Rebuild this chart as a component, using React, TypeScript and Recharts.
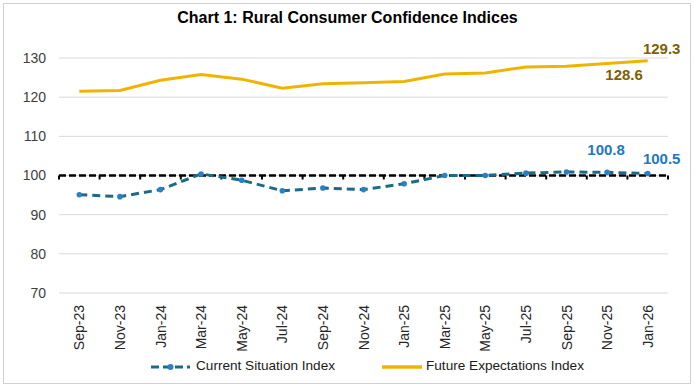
import React from "react";
import {
  LineChart,
  Line,
  XAxis,
  YAxis,
  CartesianGrid,
  ReferenceLine,
  LabelList,
  Legend,
} from "recharts";

const categories = [
  "Sep-23", "Nov-23", "Jan-24", "Mar-24", "May-24", "Jul-24", "Sep-24", "Nov-24",
  "Jan-25", "Mar-25", "May-25", "Jul-25", "Sep-25", "Nov-25", "Jan-26",
];
const currentSituation = [
  95.1, 94.6, 96.4, 100.4, 98.8, 96.1, 96.8, 96.4, 97.9, 100.0, 100.0, 100.6, 100.9, 100.8, 100.5,
];
const futureExpectations = [
  121.5, 121.7, 124.3, 125.8, 124.6, 122.3, 123.4, 123.7, 124.0, 125.9, 126.2, 127.7, 127.9, 128.6, 129.3,
];
const yTicks = [70, 80, 90, 100, 110, 120, 130];
const neutralLevel = 100;

const data = categories.map((c, i) => ({
  month: c,
  csi: currentSituation[i],
  fei: futureExpectations[i],
}));

const FONT = "'Liberation Sans', Arial, sans-serif";
const GOLD = "#F0B400";
const GOLD_LABEL = "#7F6000";
const TEAL = "#1B6A87";
const BLUE_MARK = "#2A80C4";
const BLUE_LABEL = "#2277C6";

const PLOT_W = 695 - 59 - 27;
const HALF_BAND = PLOT_W / categories.length / 2;

const XTick = (props: any) => {
  const { x, y, payload } = props;
  return (
    <text
      x={x}
      y={y}
      transform={`rotate(-90, ${x}, ${y})`}
      textAnchor="end"
      dy="0.36em"
      fontSize={14}
      fontFamily={FONT}
      fill="#262626"
    >
      {payload.value}
    </text>
  );
};

const NeutralLine = (props: any) => {
  const { x1, y1, x2 } = props;
  const n = categories.length;
  const step = (x2 - x1) / n;
  const ticks = [];
  for (let i = 0; i <= n; i++) {
    const tx = x1 + step * i;
    ticks.push(
      <line key={i} x1={tx} x2={tx} y1={y1} y2={y1 + 4} stroke="#000" strokeWidth={2} />
    );
  }
  return (
    <g>
      <line x1={x1} x2={x2} y1={y1} y2={y1} stroke="#000" strokeWidth={2.5} strokeDasharray="7 3" />
      {ticks}
    </g>
  );
};

const makeLabel = (
  offsets: Record<number, [number, number]>,
  color: string
) => (props: any) => {
  const { x, y, value, index } = props;
  const off = offsets[index];
  if (!off) return null;
  return (
    <text
      x={x + off[0]}
      y={y + off[1]}
      textAnchor="middle"
      dominantBaseline="central"
      fontSize={15}
      fontWeight="bold"
      fontFamily={FONT}
      fill={color}
    >
      {Number(value).toFixed(1)}
    </text>
  );
};

const futureLabel = makeLabel({ 13: [17, 11], 14: [14, -12] }, GOLD_LABEL);
const currentLabel = makeLabel({ 13: [-1, -23], 14: [14, -15] }, BLUE_LABEL);

const LegendContent = () => (
  <div style={{ position: "relative", width: 695, height: 30, fontFamily: FONT, fontSize: 13.6, color: "#1a1a1a" }}>
    <svg style={{ position: "absolute", left: 150, top: 9 }} width={42} height={10}>
      <line x1={1} x2={40} y1={5} y2={5} stroke={TEAL} strokeWidth={3} strokeDasharray="8 4" />
      <circle cx={20.5} cy={5} r={3} fill={BLUE_MARK} />
    </svg>
    <span style={{ position: "absolute", left: 196, top: 5, whiteSpace: "nowrap" }}>Current Situation Index</span>
    <svg style={{ position: "absolute", left: 381, top: 9 }} width={42} height={10}>
      <line x1={1} x2={41} y1={5} y2={5} stroke={GOLD} strokeWidth={3.5} />
    </svg>
    <span style={{ position: "absolute", left: 426, top: 5, whiteSpace: "nowrap" }}>Future Expectations Index</span>
  </div>
);

export default function App() {
  return (
    <div style={{ position: "relative", width: 695, height: 388, background: "#fff", overflow: "hidden" }}>
      <style>{`body{margin:0;}`}</style>
      <div
        style={{
          position: "absolute",
          left: 3,
          top: 3,
          width: 688,
          height: 381,
          border: "1px solid #D0D0D0",
          boxSizing: "border-box",
        }}
      />
      <div
        style={{
          position: "absolute",
          left: 0,
          top: 9,
          width: 695,
          textAlign: "center",
          fontFamily: FONT,
          fontWeight: "bold",
          fontSize: 16,
          color: "#000",
        }}
      >
        Chart 1: Rural Consumer Confidence Indices
      </div>
      <div style={{ position: "absolute", left: 0, top: 0 }}>
        <LineChart
          width={695}
          height={388}
          data={data}
          margin={{ top: 58, right: 27, bottom: 5, left: 0 }}
        >
          <CartesianGrid vertical={false} stroke="#D9D9D9" strokeWidth={1} />
          <XAxis
            dataKey="month"
            tick={<XTick />}
            tickLine={false}
            axisLine={false}
            interval={0}
            height={60}
            tickSize={0}
            tickMargin={12}
            padding={{ left: HALF_BAND, right: HALF_BAND }}
          />
          <YAxis
            domain={[70, 130]}
            ticks={yTicks}
            width={59}
            tickLine={false}
            axisLine={false}
            tickSize={0}
            tickMargin={13}
            tick={{ fontSize: 14, fontFamily: FONT, fill: "#404040" }}
          />
          <ReferenceLine y={neutralLevel} shape={<NeutralLine />} />
          <Line
            type="linear"
            dataKey="fei"
            stroke={GOLD}
            strokeWidth={3}
            dot={false}
            isAnimationActive={false}
          >
            <LabelList dataKey="fei" content={futureLabel} />
          </Line>
          <Line
            type="linear"
            dataKey="csi"
            stroke={TEAL}
            strokeWidth={3}
            strokeDasharray="8 5"
            dot={{ r: 2.8, fill: BLUE_MARK, stroke: BLUE_MARK, strokeWidth: 0 }}
            isAnimationActive={false}
          >
            <LabelList dataKey="csi" content={currentLabel} />
          </Line>
          <Legend verticalAlign="bottom" height={30} wrapperStyle={{ left: 0, width: 695 }} content={<LegendContent />} />
        </LineChart>
      </div>
    </div>
  );
}
